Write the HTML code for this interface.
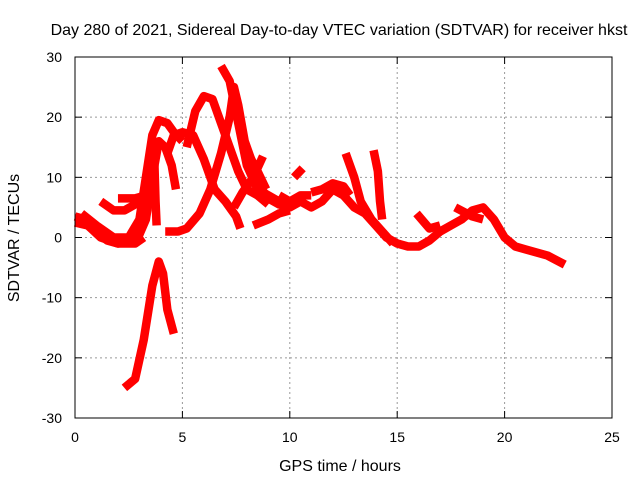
<!DOCTYPE html>
<html><head><meta charset="utf-8"><style>
body{margin:0;background:#fff;}
svg{font-family:"Liberation Sans",sans-serif;}
</style></head><body>
<svg id="c" width="640" height="480">
<text x="339" y="35" text-anchor="middle" font-size="16">Day 280 of 2021, Sidereal Day-to-day VTEC variation (SDTVAR) for receiver hkst</text>
<text x="340" y="471" text-anchor="middle" font-size="16">GPS time / hours</text>
<text transform="translate(19,238) rotate(-90)" text-anchor="middle" font-size="16">SDTVAR / TECUs</text>
<g id="grid"></g><g id="ticks"></g><g id="series"></g>
<rect x="75" y="57" width="537" height="361" fill="none" stroke="#000" stroke-width="1"/>
</svg>
<script>
const xTicks=[0,5,10,15,20,25];
const yTicks=[-30,-20,-10,0,10,20,30];
const arcA=[[0,3.5],[0.5,3],[1,1],[1.5,-0.5],[2,-1],[2.5,-0.5],[3,0.5],[3.3,3],[3.6,10],[3.9,16],[4.2,15],[4.5,12],[4.7,8]];
const arcB=[[0.3,4],[1,2],[1.8,0],[2.5,0],[3,3],[3.3,10],[3.6,17],[3.9,19.5],[4.3,19],[4.6,17.5],[5,16]];
const arcC=[[0,2.5],[0.6,2],[1.2,0],[2,-1],[2.8,-1],[3.2,0]];
const arcD=[[1.2,6],[1.8,4.5],[2.3,4.5],[2.8,5.5],[3.2,6.5]];
const arcE=[[2,6.5],[2.8,6.5],[3.3,7]];
const arcF=[[3.7,12],[3.75,6],[3.8,2]];
const arcG=[[4.2,1],[4.8,1],[5.2,1.5],[5.8,4],[6.3,8],[6.8,14],[7.2,20],[7.4,25],[7.6,22],[7.9,16],[8.3,12],[8.7,8],[9,6.5],[9.5,5.5],[10,5],[10.5,6],[11,5],[11.5,6],[12,8],[12.5,7],[13,5],[13.5,4],[14,2],[14.5,0],[15,-1],[15.5,-1.5],[16,-1.5],[16.5,-0.5],[17,1],[17.5,2],[18,3],[18.5,4.5],[19,5],[19.5,3],[20,0],[20.5,-1.5],[21,-2],[22,-3],[22.8,-4.5]];
const arcH=[[4.3,14],[4.6,17],[5,17.5],[5.5,17],[6,13],[6.5,8],[7,6],[7.5,3.5],[7.7,1.5]];
const arcI=[[5.2,15],[5.6,21],[6,23.5],[6.4,23],[6.8,19],[7.2,15],[7.6,11],[8,8],[8.5,7],[9,5.5]];
const arcJ=[[6.8,28.5],[7.2,26],[7.6,19],[8,12],[8.5,8],[9,7],[9.5,6]];
const arcK=[[7.6,21],[7.9,15],[8.2,13],[8.5,11],[8.9,8]];
const arcL=[[7.4,5],[7.8,7.5],[8.3,10],[8.75,13.5]];
const arcM=[[8.3,2],[9,3],[9.5,4],[10,4.5]];
const arcN=[[10.2,10],[10.6,11.5]];
const arcO=[[12.6,14],[13,10],[13.3,6],[13.8,3],[14.3,1],[14.8,-1]];
const arcP=[[13.9,14.5],[14.1,11],[14.2,6],[14.3,3]];
const arcQ=[[15.9,4],[16.5,1.5],[17,2]];
const arcR=[[17.7,5],[18.5,3.5],[19,3]];
const arcS=[[2.3,-25],[2.8,-23.5],[3.2,-17],[3.6,-8],[3.9,-4],[4.1,-6],[4.3,-12],[4.6,-16]];
const arcT=[[11,7.5],[11.5,8],[12,9],[12.5,8.5],[12.8,7]];
const arcU=[[9.5,7],[10,6],[10.5,7],[11,7]];
const arcs=[arcA,arcB,arcC,arcD,arcE,arcF,arcG,arcH,arcI,arcJ,arcK,arcL,arcM,arcN,arcO,arcP,arcQ,arcR,arcS,arcT,arcU];
const X=h=>75+h*(537/25);
const Y=v=>237.5-v*(361/60);
const ns="http://www.w3.org/2000/svg";
const grid=document.getElementById('grid'),ticks=document.getElementById('ticks'),ser=document.getElementById('series');
function mk(tag,attrs,parent){const e=document.createElementNS(ns,tag);for(const k in attrs)e.setAttribute(k,attrs[k]);parent.appendChild(e);return e;}
xTicks.forEach(t=>{
  const x=X(t);
  if(t>0&&t<25){const g=mk('line',{x1:x,x2:x,y1:57,y2:418,stroke:'#999','stroke-dasharray':'2,3'},grid);
  
  }
  mk('line',{x1:x,x2:x,y1:418,y2:411,stroke:'#000'},ticks);
  mk('line',{x1:x,x2:x,y1:57,y2:64,stroke:'#000'},ticks);
  const l=mk('text',{x:x,y:442,'text-anchor':'middle','font-size':14},ticks);l.textContent=t;
  
  
});
yTicks.forEach(t=>{
  const y=Y(t);
  if(t>-30&&t<30){const g=mk('line',{x1:75,x2:612,y1:y,y2:y,stroke:'#999','stroke-dasharray':'2,3'},grid);
  
  }
  mk('line',{x1:75,x2:82,y1:y,y2:y,stroke:'#000'},ticks);
  mk('line',{x1:612,x2:605,y1:y,y2:y,stroke:'#000'},ticks);
  const l=mk('text',{x:62,y:y+5,'text-anchor':'end','font-size':14},ticks);l.textContent=t;
  
  
});
arcs.forEach(a=>{
  const p=mk('polyline',{points:a.map(d=>X(d[0])+','+Y(d[1])).join(' '),fill:'none',stroke:'#f00','stroke-width':8.5,'stroke-linejoin':'round','stroke-linecap':'butt'},ser);
  
  
});
</script>
</body></html>
